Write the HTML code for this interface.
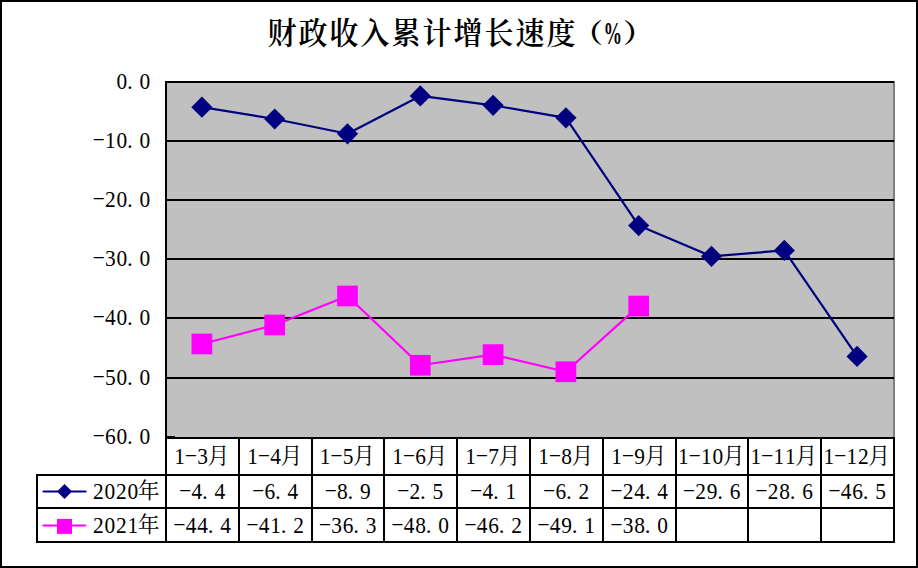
<!DOCTYPE html>
<html lang="zh-CN"><head><meta charset="utf-8"><title>财政收入累计增长速度</title>
<style>
html,body{margin:0;padding:0;background:#fff;}
body{width:918px;height:568px;overflow:hidden;}
svg{display:block;}
</style></head>
<body>
<svg width="918" height="568" viewBox="0 0 918 568">
<rect x="1" y="1" width="916" height="566" fill="#fff" stroke="#000" stroke-width="2"/>
<rect x="166" y="82" width="728" height="356" fill="#c0c0c0" stroke="#808080" stroke-width="2"/>
<line x1="166" y1="82" x2="894" y2="82" stroke="#000" stroke-width="2"/>
<line x1="166" y1="141" x2="894" y2="141" stroke="#000" stroke-width="2"/>
<line x1="166" y1="200" x2="894" y2="200" stroke="#000" stroke-width="2"/>
<line x1="166" y1="259" x2="894" y2="259" stroke="#000" stroke-width="2"/>
<line x1="166" y1="318" x2="894" y2="318" stroke="#000" stroke-width="2"/>
<line x1="166" y1="378" x2="894" y2="378" stroke="#000" stroke-width="2"/>
<line x1="166" y1="437" x2="175" y2="437" stroke="#000" stroke-width="2"/>
<line x1="166" y1="81" x2="166" y2="543" stroke="#000" stroke-width="2"/>
<line x1="165" y1="438" x2="895" y2="438" stroke="#000" stroke-width="2"/>
<text transform="translate(116.40,89.00) scale(0.93,1.04)" font-family="'Liberation Serif', 'Noto Serif CJK SC', serif" font-size="23" fill="#000">0</text>
<text transform="translate(126.90,89.00) scale(1.0,1.04)" font-family="'Liberation Serif', 'Noto Serif CJK SC', serif" font-size="23" fill="#000">.</text>
<text transform="translate(139.40,89.00) scale(0.93,1.04)" font-family="'Liberation Serif', 'Noto Serif CJK SC', serif" font-size="23" fill="#000">0</text>
<text transform="translate(92.17,142.97) scale(1.68,0.64)" font-family="'Liberation Serif', 'Noto Serif CJK SC', serif" font-size="23" fill="#000">-</text>
<text transform="translate(104.90,148.00) scale(0.93,1.04)" font-family="'Liberation Serif', 'Noto Serif CJK SC', serif" font-size="23" fill="#000">1</text>
<text transform="translate(116.40,148.00) scale(0.93,1.04)" font-family="'Liberation Serif', 'Noto Serif CJK SC', serif" font-size="23" fill="#000">0</text>
<text transform="translate(126.90,148.00) scale(1.0,1.04)" font-family="'Liberation Serif', 'Noto Serif CJK SC', serif" font-size="23" fill="#000">.</text>
<text transform="translate(139.40,148.00) scale(0.93,1.04)" font-family="'Liberation Serif', 'Noto Serif CJK SC', serif" font-size="23" fill="#000">0</text>
<text transform="translate(92.17,201.97) scale(1.68,0.64)" font-family="'Liberation Serif', 'Noto Serif CJK SC', serif" font-size="23" fill="#000">-</text>
<text transform="translate(104.90,207.00) scale(0.93,1.04)" font-family="'Liberation Serif', 'Noto Serif CJK SC', serif" font-size="23" fill="#000">2</text>
<text transform="translate(116.40,207.00) scale(0.93,1.04)" font-family="'Liberation Serif', 'Noto Serif CJK SC', serif" font-size="23" fill="#000">0</text>
<text transform="translate(126.90,207.00) scale(1.0,1.04)" font-family="'Liberation Serif', 'Noto Serif CJK SC', serif" font-size="23" fill="#000">.</text>
<text transform="translate(139.40,207.00) scale(0.93,1.04)" font-family="'Liberation Serif', 'Noto Serif CJK SC', serif" font-size="23" fill="#000">0</text>
<text transform="translate(92.17,260.97) scale(1.68,0.64)" font-family="'Liberation Serif', 'Noto Serif CJK SC', serif" font-size="23" fill="#000">-</text>
<text transform="translate(104.90,266.00) scale(0.93,1.04)" font-family="'Liberation Serif', 'Noto Serif CJK SC', serif" font-size="23" fill="#000">3</text>
<text transform="translate(116.40,266.00) scale(0.93,1.04)" font-family="'Liberation Serif', 'Noto Serif CJK SC', serif" font-size="23" fill="#000">0</text>
<text transform="translate(126.90,266.00) scale(1.0,1.04)" font-family="'Liberation Serif', 'Noto Serif CJK SC', serif" font-size="23" fill="#000">.</text>
<text transform="translate(139.40,266.00) scale(0.93,1.04)" font-family="'Liberation Serif', 'Noto Serif CJK SC', serif" font-size="23" fill="#000">0</text>
<text transform="translate(92.17,319.97) scale(1.68,0.64)" font-family="'Liberation Serif', 'Noto Serif CJK SC', serif" font-size="23" fill="#000">-</text>
<text transform="translate(104.90,325.00) scale(0.93,1.04)" font-family="'Liberation Serif', 'Noto Serif CJK SC', serif" font-size="23" fill="#000">4</text>
<text transform="translate(116.40,325.00) scale(0.93,1.04)" font-family="'Liberation Serif', 'Noto Serif CJK SC', serif" font-size="23" fill="#000">0</text>
<text transform="translate(126.90,325.00) scale(1.0,1.04)" font-family="'Liberation Serif', 'Noto Serif CJK SC', serif" font-size="23" fill="#000">.</text>
<text transform="translate(139.40,325.00) scale(0.93,1.04)" font-family="'Liberation Serif', 'Noto Serif CJK SC', serif" font-size="23" fill="#000">0</text>
<text transform="translate(92.17,379.97) scale(1.68,0.64)" font-family="'Liberation Serif', 'Noto Serif CJK SC', serif" font-size="23" fill="#000">-</text>
<text transform="translate(104.90,385.00) scale(0.93,1.04)" font-family="'Liberation Serif', 'Noto Serif CJK SC', serif" font-size="23" fill="#000">5</text>
<text transform="translate(116.40,385.00) scale(0.93,1.04)" font-family="'Liberation Serif', 'Noto Serif CJK SC', serif" font-size="23" fill="#000">0</text>
<text transform="translate(126.90,385.00) scale(1.0,1.04)" font-family="'Liberation Serif', 'Noto Serif CJK SC', serif" font-size="23" fill="#000">.</text>
<text transform="translate(139.40,385.00) scale(0.93,1.04)" font-family="'Liberation Serif', 'Noto Serif CJK SC', serif" font-size="23" fill="#000">0</text>
<text transform="translate(92.17,438.97) scale(1.68,0.64)" font-family="'Liberation Serif', 'Noto Serif CJK SC', serif" font-size="23" fill="#000">-</text>
<text transform="translate(104.90,444.00) scale(0.93,1.04)" font-family="'Liberation Serif', 'Noto Serif CJK SC', serif" font-size="23" fill="#000">6</text>
<text transform="translate(116.40,444.00) scale(0.93,1.04)" font-family="'Liberation Serif', 'Noto Serif CJK SC', serif" font-size="23" fill="#000">0</text>
<text transform="translate(126.90,444.00) scale(1.0,1.04)" font-family="'Liberation Serif', 'Noto Serif CJK SC', serif" font-size="23" fill="#000">.</text>
<text transform="translate(139.40,444.00) scale(0.93,1.04)" font-family="'Liberation Serif', 'Noto Serif CJK SC', serif" font-size="23" fill="#000">0</text>
<line x1="36" y1="475" x2="895" y2="475" stroke="#000" stroke-width="2"/>
<line x1="36" y1="508" x2="895" y2="508" stroke="#000" stroke-width="2"/>
<line x1="36" y1="542" x2="895" y2="542" stroke="#000" stroke-width="2"/>
<line x1="37" y1="474" x2="37" y2="543" stroke="#000" stroke-width="2"/>
<line x1="239" y1="437" x2="239" y2="543" stroke="#000" stroke-width="2"/>
<line x1="312" y1="437" x2="312" y2="543" stroke="#000" stroke-width="2"/>
<line x1="384" y1="437" x2="384" y2="543" stroke="#000" stroke-width="2"/>
<line x1="457" y1="437" x2="457" y2="543" stroke="#000" stroke-width="2"/>
<line x1="530" y1="437" x2="530" y2="543" stroke="#000" stroke-width="2"/>
<line x1="603" y1="437" x2="603" y2="543" stroke="#000" stroke-width="2"/>
<line x1="676" y1="437" x2="676" y2="543" stroke="#000" stroke-width="2"/>
<line x1="748" y1="437" x2="748" y2="543" stroke="#000" stroke-width="2"/>
<line x1="821" y1="437" x2="821" y2="543" stroke="#000" stroke-width="2"/>
<line x1="894" y1="437" x2="894" y2="543" stroke="#000" stroke-width="2"/>
<text transform="translate(174.15,464.00) scale(0.93,1.04)" font-family="'Liberation Serif', 'Noto Serif CJK SC', serif" font-size="23" fill="#000">1</text>
<text transform="translate(184.42,458.97) scale(1.68,0.64)" font-family="'Liberation Serif', 'Noto Serif CJK SC', serif" font-size="23" fill="#000">-</text>
<text transform="translate(197.15,464.00) scale(0.93,1.04)" font-family="'Liberation Serif', 'Noto Serif CJK SC', serif" font-size="23" fill="#000">3</text>
<text x="207.55" y="463.00" font-family="'Liberation Serif', 'Noto Serif CJK SC', serif" font-size="21.85" fill="#000">月</text>
<text transform="translate(178.67,493.97) scale(1.68,0.64)" font-family="'Liberation Serif', 'Noto Serif CJK SC', serif" font-size="23" fill="#000">-</text>
<text transform="translate(191.40,499.00) scale(0.93,1.04)" font-family="'Liberation Serif', 'Noto Serif CJK SC', serif" font-size="23" fill="#000">4</text>
<text transform="translate(201.90,499.00) scale(1.0,1.04)" font-family="'Liberation Serif', 'Noto Serif CJK SC', serif" font-size="23" fill="#000">.</text>
<text transform="translate(214.40,499.00) scale(0.93,1.04)" font-family="'Liberation Serif', 'Noto Serif CJK SC', serif" font-size="23" fill="#000">4</text>
<text transform="translate(172.92,527.97) scale(1.68,0.64)" font-family="'Liberation Serif', 'Noto Serif CJK SC', serif" font-size="23" fill="#000">-</text>
<text transform="translate(185.65,533.00) scale(0.93,1.04)" font-family="'Liberation Serif', 'Noto Serif CJK SC', serif" font-size="23" fill="#000">4</text>
<text transform="translate(197.15,533.00) scale(0.93,1.04)" font-family="'Liberation Serif', 'Noto Serif CJK SC', serif" font-size="23" fill="#000">4</text>
<text transform="translate(207.65,533.00) scale(1.0,1.04)" font-family="'Liberation Serif', 'Noto Serif CJK SC', serif" font-size="23" fill="#000">.</text>
<text transform="translate(220.15,533.00) scale(0.93,1.04)" font-family="'Liberation Serif', 'Noto Serif CJK SC', serif" font-size="23" fill="#000">4</text>
<text transform="translate(247.15,464.00) scale(0.93,1.04)" font-family="'Liberation Serif', 'Noto Serif CJK SC', serif" font-size="23" fill="#000">1</text>
<text transform="translate(257.42,458.97) scale(1.68,0.64)" font-family="'Liberation Serif', 'Noto Serif CJK SC', serif" font-size="23" fill="#000">-</text>
<text transform="translate(270.15,464.00) scale(0.93,1.04)" font-family="'Liberation Serif', 'Noto Serif CJK SC', serif" font-size="23" fill="#000">4</text>
<text x="280.55" y="463.00" font-family="'Liberation Serif', 'Noto Serif CJK SC', serif" font-size="21.85" fill="#000">月</text>
<text transform="translate(251.67,493.97) scale(1.68,0.64)" font-family="'Liberation Serif', 'Noto Serif CJK SC', serif" font-size="23" fill="#000">-</text>
<text transform="translate(264.40,499.00) scale(0.93,1.04)" font-family="'Liberation Serif', 'Noto Serif CJK SC', serif" font-size="23" fill="#000">6</text>
<text transform="translate(274.90,499.00) scale(1.0,1.04)" font-family="'Liberation Serif', 'Noto Serif CJK SC', serif" font-size="23" fill="#000">.</text>
<text transform="translate(287.40,499.00) scale(0.93,1.04)" font-family="'Liberation Serif', 'Noto Serif CJK SC', serif" font-size="23" fill="#000">4</text>
<text transform="translate(245.92,527.97) scale(1.68,0.64)" font-family="'Liberation Serif', 'Noto Serif CJK SC', serif" font-size="23" fill="#000">-</text>
<text transform="translate(258.65,533.00) scale(0.93,1.04)" font-family="'Liberation Serif', 'Noto Serif CJK SC', serif" font-size="23" fill="#000">4</text>
<text transform="translate(270.15,533.00) scale(0.93,1.04)" font-family="'Liberation Serif', 'Noto Serif CJK SC', serif" font-size="23" fill="#000">1</text>
<text transform="translate(280.65,533.00) scale(1.0,1.04)" font-family="'Liberation Serif', 'Noto Serif CJK SC', serif" font-size="23" fill="#000">.</text>
<text transform="translate(293.15,533.00) scale(0.93,1.04)" font-family="'Liberation Serif', 'Noto Serif CJK SC', serif" font-size="23" fill="#000">2</text>
<text transform="translate(319.65,464.00) scale(0.93,1.04)" font-family="'Liberation Serif', 'Noto Serif CJK SC', serif" font-size="23" fill="#000">1</text>
<text transform="translate(329.92,458.97) scale(1.68,0.64)" font-family="'Liberation Serif', 'Noto Serif CJK SC', serif" font-size="23" fill="#000">-</text>
<text transform="translate(342.65,464.00) scale(0.93,1.04)" font-family="'Liberation Serif', 'Noto Serif CJK SC', serif" font-size="23" fill="#000">5</text>
<text x="353.05" y="463.00" font-family="'Liberation Serif', 'Noto Serif CJK SC', serif" font-size="21.85" fill="#000">月</text>
<text transform="translate(324.17,493.97) scale(1.68,0.64)" font-family="'Liberation Serif', 'Noto Serif CJK SC', serif" font-size="23" fill="#000">-</text>
<text transform="translate(336.90,499.00) scale(0.93,1.04)" font-family="'Liberation Serif', 'Noto Serif CJK SC', serif" font-size="23" fill="#000">8</text>
<text transform="translate(347.40,499.00) scale(1.0,1.04)" font-family="'Liberation Serif', 'Noto Serif CJK SC', serif" font-size="23" fill="#000">.</text>
<text transform="translate(359.90,499.00) scale(0.93,1.04)" font-family="'Liberation Serif', 'Noto Serif CJK SC', serif" font-size="23" fill="#000">9</text>
<text transform="translate(318.42,527.97) scale(1.68,0.64)" font-family="'Liberation Serif', 'Noto Serif CJK SC', serif" font-size="23" fill="#000">-</text>
<text transform="translate(331.15,533.00) scale(0.93,1.04)" font-family="'Liberation Serif', 'Noto Serif CJK SC', serif" font-size="23" fill="#000">3</text>
<text transform="translate(342.65,533.00) scale(0.93,1.04)" font-family="'Liberation Serif', 'Noto Serif CJK SC', serif" font-size="23" fill="#000">6</text>
<text transform="translate(353.15,533.00) scale(1.0,1.04)" font-family="'Liberation Serif', 'Noto Serif CJK SC', serif" font-size="23" fill="#000">.</text>
<text transform="translate(365.65,533.00) scale(0.93,1.04)" font-family="'Liberation Serif', 'Noto Serif CJK SC', serif" font-size="23" fill="#000">3</text>
<text transform="translate(392.15,464.00) scale(0.93,1.04)" font-family="'Liberation Serif', 'Noto Serif CJK SC', serif" font-size="23" fill="#000">1</text>
<text transform="translate(402.42,458.97) scale(1.68,0.64)" font-family="'Liberation Serif', 'Noto Serif CJK SC', serif" font-size="23" fill="#000">-</text>
<text transform="translate(415.15,464.00) scale(0.93,1.04)" font-family="'Liberation Serif', 'Noto Serif CJK SC', serif" font-size="23" fill="#000">6</text>
<text x="425.55" y="463.00" font-family="'Liberation Serif', 'Noto Serif CJK SC', serif" font-size="21.85" fill="#000">月</text>
<text transform="translate(396.67,493.97) scale(1.68,0.64)" font-family="'Liberation Serif', 'Noto Serif CJK SC', serif" font-size="23" fill="#000">-</text>
<text transform="translate(409.40,499.00) scale(0.93,1.04)" font-family="'Liberation Serif', 'Noto Serif CJK SC', serif" font-size="23" fill="#000">2</text>
<text transform="translate(419.90,499.00) scale(1.0,1.04)" font-family="'Liberation Serif', 'Noto Serif CJK SC', serif" font-size="23" fill="#000">.</text>
<text transform="translate(432.40,499.00) scale(0.93,1.04)" font-family="'Liberation Serif', 'Noto Serif CJK SC', serif" font-size="23" fill="#000">5</text>
<text transform="translate(390.92,527.97) scale(1.68,0.64)" font-family="'Liberation Serif', 'Noto Serif CJK SC', serif" font-size="23" fill="#000">-</text>
<text transform="translate(403.65,533.00) scale(0.93,1.04)" font-family="'Liberation Serif', 'Noto Serif CJK SC', serif" font-size="23" fill="#000">4</text>
<text transform="translate(415.15,533.00) scale(0.93,1.04)" font-family="'Liberation Serif', 'Noto Serif CJK SC', serif" font-size="23" fill="#000">8</text>
<text transform="translate(425.65,533.00) scale(1.0,1.04)" font-family="'Liberation Serif', 'Noto Serif CJK SC', serif" font-size="23" fill="#000">.</text>
<text transform="translate(438.15,533.00) scale(0.93,1.04)" font-family="'Liberation Serif', 'Noto Serif CJK SC', serif" font-size="23" fill="#000">0</text>
<text transform="translate(465.15,464.00) scale(0.93,1.04)" font-family="'Liberation Serif', 'Noto Serif CJK SC', serif" font-size="23" fill="#000">1</text>
<text transform="translate(475.42,458.97) scale(1.68,0.64)" font-family="'Liberation Serif', 'Noto Serif CJK SC', serif" font-size="23" fill="#000">-</text>
<text transform="translate(488.15,464.00) scale(0.93,1.04)" font-family="'Liberation Serif', 'Noto Serif CJK SC', serif" font-size="23" fill="#000">7</text>
<text x="498.55" y="463.00" font-family="'Liberation Serif', 'Noto Serif CJK SC', serif" font-size="21.85" fill="#000">月</text>
<text transform="translate(469.67,493.97) scale(1.68,0.64)" font-family="'Liberation Serif', 'Noto Serif CJK SC', serif" font-size="23" fill="#000">-</text>
<text transform="translate(482.40,499.00) scale(0.93,1.04)" font-family="'Liberation Serif', 'Noto Serif CJK SC', serif" font-size="23" fill="#000">4</text>
<text transform="translate(492.90,499.00) scale(1.0,1.04)" font-family="'Liberation Serif', 'Noto Serif CJK SC', serif" font-size="23" fill="#000">.</text>
<text transform="translate(505.40,499.00) scale(0.93,1.04)" font-family="'Liberation Serif', 'Noto Serif CJK SC', serif" font-size="23" fill="#000">1</text>
<text transform="translate(463.92,527.97) scale(1.68,0.64)" font-family="'Liberation Serif', 'Noto Serif CJK SC', serif" font-size="23" fill="#000">-</text>
<text transform="translate(476.65,533.00) scale(0.93,1.04)" font-family="'Liberation Serif', 'Noto Serif CJK SC', serif" font-size="23" fill="#000">4</text>
<text transform="translate(488.15,533.00) scale(0.93,1.04)" font-family="'Liberation Serif', 'Noto Serif CJK SC', serif" font-size="23" fill="#000">6</text>
<text transform="translate(498.65,533.00) scale(1.0,1.04)" font-family="'Liberation Serif', 'Noto Serif CJK SC', serif" font-size="23" fill="#000">.</text>
<text transform="translate(511.15,533.00) scale(0.93,1.04)" font-family="'Liberation Serif', 'Noto Serif CJK SC', serif" font-size="23" fill="#000">2</text>
<text transform="translate(538.15,464.00) scale(0.93,1.04)" font-family="'Liberation Serif', 'Noto Serif CJK SC', serif" font-size="23" fill="#000">1</text>
<text transform="translate(548.42,458.97) scale(1.68,0.64)" font-family="'Liberation Serif', 'Noto Serif CJK SC', serif" font-size="23" fill="#000">-</text>
<text transform="translate(561.15,464.00) scale(0.93,1.04)" font-family="'Liberation Serif', 'Noto Serif CJK SC', serif" font-size="23" fill="#000">8</text>
<text x="571.55" y="463.00" font-family="'Liberation Serif', 'Noto Serif CJK SC', serif" font-size="21.85" fill="#000">月</text>
<text transform="translate(542.67,493.97) scale(1.68,0.64)" font-family="'Liberation Serif', 'Noto Serif CJK SC', serif" font-size="23" fill="#000">-</text>
<text transform="translate(555.40,499.00) scale(0.93,1.04)" font-family="'Liberation Serif', 'Noto Serif CJK SC', serif" font-size="23" fill="#000">6</text>
<text transform="translate(565.90,499.00) scale(1.0,1.04)" font-family="'Liberation Serif', 'Noto Serif CJK SC', serif" font-size="23" fill="#000">.</text>
<text transform="translate(578.40,499.00) scale(0.93,1.04)" font-family="'Liberation Serif', 'Noto Serif CJK SC', serif" font-size="23" fill="#000">2</text>
<text transform="translate(536.92,527.97) scale(1.68,0.64)" font-family="'Liberation Serif', 'Noto Serif CJK SC', serif" font-size="23" fill="#000">-</text>
<text transform="translate(549.65,533.00) scale(0.93,1.04)" font-family="'Liberation Serif', 'Noto Serif CJK SC', serif" font-size="23" fill="#000">4</text>
<text transform="translate(561.15,533.00) scale(0.93,1.04)" font-family="'Liberation Serif', 'Noto Serif CJK SC', serif" font-size="23" fill="#000">9</text>
<text transform="translate(571.65,533.00) scale(1.0,1.04)" font-family="'Liberation Serif', 'Noto Serif CJK SC', serif" font-size="23" fill="#000">.</text>
<text transform="translate(584.15,533.00) scale(0.93,1.04)" font-family="'Liberation Serif', 'Noto Serif CJK SC', serif" font-size="23" fill="#000">1</text>
<text transform="translate(611.15,464.00) scale(0.93,1.04)" font-family="'Liberation Serif', 'Noto Serif CJK SC', serif" font-size="23" fill="#000">1</text>
<text transform="translate(621.42,458.97) scale(1.68,0.64)" font-family="'Liberation Serif', 'Noto Serif CJK SC', serif" font-size="23" fill="#000">-</text>
<text transform="translate(634.15,464.00) scale(0.93,1.04)" font-family="'Liberation Serif', 'Noto Serif CJK SC', serif" font-size="23" fill="#000">9</text>
<text x="644.55" y="463.00" font-family="'Liberation Serif', 'Noto Serif CJK SC', serif" font-size="21.85" fill="#000">月</text>
<text transform="translate(609.92,493.97) scale(1.68,0.64)" font-family="'Liberation Serif', 'Noto Serif CJK SC', serif" font-size="23" fill="#000">-</text>
<text transform="translate(622.65,499.00) scale(0.93,1.04)" font-family="'Liberation Serif', 'Noto Serif CJK SC', serif" font-size="23" fill="#000">2</text>
<text transform="translate(634.15,499.00) scale(0.93,1.04)" font-family="'Liberation Serif', 'Noto Serif CJK SC', serif" font-size="23" fill="#000">4</text>
<text transform="translate(644.65,499.00) scale(1.0,1.04)" font-family="'Liberation Serif', 'Noto Serif CJK SC', serif" font-size="23" fill="#000">.</text>
<text transform="translate(657.15,499.00) scale(0.93,1.04)" font-family="'Liberation Serif', 'Noto Serif CJK SC', serif" font-size="23" fill="#000">4</text>
<text transform="translate(609.92,527.97) scale(1.68,0.64)" font-family="'Liberation Serif', 'Noto Serif CJK SC', serif" font-size="23" fill="#000">-</text>
<text transform="translate(622.65,533.00) scale(0.93,1.04)" font-family="'Liberation Serif', 'Noto Serif CJK SC', serif" font-size="23" fill="#000">3</text>
<text transform="translate(634.15,533.00) scale(0.93,1.04)" font-family="'Liberation Serif', 'Noto Serif CJK SC', serif" font-size="23" fill="#000">8</text>
<text transform="translate(644.65,533.00) scale(1.0,1.04)" font-family="'Liberation Serif', 'Noto Serif CJK SC', serif" font-size="23" fill="#000">.</text>
<text transform="translate(657.15,533.00) scale(0.93,1.04)" font-family="'Liberation Serif', 'Noto Serif CJK SC', serif" font-size="23" fill="#000">0</text>
<text transform="translate(677.90,464.00) scale(0.93,1.04)" font-family="'Liberation Serif', 'Noto Serif CJK SC', serif" font-size="23" fill="#000">1</text>
<text transform="translate(688.17,458.97) scale(1.68,0.64)" font-family="'Liberation Serif', 'Noto Serif CJK SC', serif" font-size="23" fill="#000">-</text>
<text transform="translate(700.90,464.00) scale(0.93,1.04)" font-family="'Liberation Serif', 'Noto Serif CJK SC', serif" font-size="23" fill="#000">1</text>
<text transform="translate(712.40,464.00) scale(0.93,1.04)" font-family="'Liberation Serif', 'Noto Serif CJK SC', serif" font-size="23" fill="#000">0</text>
<text x="722.80" y="463.00" font-family="'Liberation Serif', 'Noto Serif CJK SC', serif" font-size="21.85" fill="#000">月</text>
<text transform="translate(682.42,493.97) scale(1.68,0.64)" font-family="'Liberation Serif', 'Noto Serif CJK SC', serif" font-size="23" fill="#000">-</text>
<text transform="translate(695.15,499.00) scale(0.93,1.04)" font-family="'Liberation Serif', 'Noto Serif CJK SC', serif" font-size="23" fill="#000">2</text>
<text transform="translate(706.65,499.00) scale(0.93,1.04)" font-family="'Liberation Serif', 'Noto Serif CJK SC', serif" font-size="23" fill="#000">9</text>
<text transform="translate(717.15,499.00) scale(1.0,1.04)" font-family="'Liberation Serif', 'Noto Serif CJK SC', serif" font-size="23" fill="#000">.</text>
<text transform="translate(729.65,499.00) scale(0.93,1.04)" font-family="'Liberation Serif', 'Noto Serif CJK SC', serif" font-size="23" fill="#000">6</text>
<text transform="translate(750.40,464.00) scale(0.93,1.04)" font-family="'Liberation Serif', 'Noto Serif CJK SC', serif" font-size="23" fill="#000">1</text>
<text transform="translate(760.67,458.97) scale(1.68,0.64)" font-family="'Liberation Serif', 'Noto Serif CJK SC', serif" font-size="23" fill="#000">-</text>
<text transform="translate(773.40,464.00) scale(0.93,1.04)" font-family="'Liberation Serif', 'Noto Serif CJK SC', serif" font-size="23" fill="#000">1</text>
<text transform="translate(784.90,464.00) scale(0.93,1.04)" font-family="'Liberation Serif', 'Noto Serif CJK SC', serif" font-size="23" fill="#000">1</text>
<text x="795.30" y="463.00" font-family="'Liberation Serif', 'Noto Serif CJK SC', serif" font-size="21.85" fill="#000">月</text>
<text transform="translate(754.92,493.97) scale(1.68,0.64)" font-family="'Liberation Serif', 'Noto Serif CJK SC', serif" font-size="23" fill="#000">-</text>
<text transform="translate(767.65,499.00) scale(0.93,1.04)" font-family="'Liberation Serif', 'Noto Serif CJK SC', serif" font-size="23" fill="#000">2</text>
<text transform="translate(779.15,499.00) scale(0.93,1.04)" font-family="'Liberation Serif', 'Noto Serif CJK SC', serif" font-size="23" fill="#000">8</text>
<text transform="translate(789.65,499.00) scale(1.0,1.04)" font-family="'Liberation Serif', 'Noto Serif CJK SC', serif" font-size="23" fill="#000">.</text>
<text transform="translate(802.15,499.00) scale(0.93,1.04)" font-family="'Liberation Serif', 'Noto Serif CJK SC', serif" font-size="23" fill="#000">6</text>
<text transform="translate(823.40,464.00) scale(0.93,1.04)" font-family="'Liberation Serif', 'Noto Serif CJK SC', serif" font-size="23" fill="#000">1</text>
<text transform="translate(833.67,458.97) scale(1.68,0.64)" font-family="'Liberation Serif', 'Noto Serif CJK SC', serif" font-size="23" fill="#000">-</text>
<text transform="translate(846.40,464.00) scale(0.93,1.04)" font-family="'Liberation Serif', 'Noto Serif CJK SC', serif" font-size="23" fill="#000">1</text>
<text transform="translate(857.90,464.00) scale(0.93,1.04)" font-family="'Liberation Serif', 'Noto Serif CJK SC', serif" font-size="23" fill="#000">2</text>
<text x="868.30" y="463.00" font-family="'Liberation Serif', 'Noto Serif CJK SC', serif" font-size="21.85" fill="#000">月</text>
<text transform="translate(827.92,493.97) scale(1.68,0.64)" font-family="'Liberation Serif', 'Noto Serif CJK SC', serif" font-size="23" fill="#000">-</text>
<text transform="translate(840.65,499.00) scale(0.93,1.04)" font-family="'Liberation Serif', 'Noto Serif CJK SC', serif" font-size="23" fill="#000">4</text>
<text transform="translate(852.15,499.00) scale(0.93,1.04)" font-family="'Liberation Serif', 'Noto Serif CJK SC', serif" font-size="23" fill="#000">6</text>
<text transform="translate(862.65,499.00) scale(1.0,1.04)" font-family="'Liberation Serif', 'Noto Serif CJK SC', serif" font-size="23" fill="#000">.</text>
<text transform="translate(875.15,499.00) scale(0.93,1.04)" font-family="'Liberation Serif', 'Noto Serif CJK SC', serif" font-size="23" fill="#000">5</text>
<line x1="43.6" y1="491.5" x2="85.6" y2="491.5" stroke="#000080" stroke-width="2.2" stroke-linecap="round"/>
<polygon points="64.5,484 72,491.5 64.5,499 57,491.5" fill="#000080"/>
<text transform="translate(92.90,498.50) scale(0.93,1.04)" font-family="'Liberation Serif', 'Noto Serif CJK SC', serif" font-size="23" fill="#000">2</text>
<text transform="translate(104.40,498.50) scale(0.93,1.04)" font-family="'Liberation Serif', 'Noto Serif CJK SC', serif" font-size="23" fill="#000">0</text>
<text transform="translate(115.90,498.50) scale(0.93,1.04)" font-family="'Liberation Serif', 'Noto Serif CJK SC', serif" font-size="23" fill="#000">2</text>
<text transform="translate(127.40,498.50) scale(0.93,1.04)" font-family="'Liberation Serif', 'Noto Serif CJK SC', serif" font-size="23" fill="#000">0</text>
<text x="137.80" y="497.50" font-family="'Liberation Serif', 'Noto Serif CJK SC', serif" font-size="21.85" fill="#000">年</text>
<line x1="43.4" y1="525.5" x2="85.2" y2="525.5" stroke="#ff00ff" stroke-width="2.2" stroke-linecap="round"/>
<rect x="57" y="518.9" width="15" height="15" fill="#ff00ff"/>
<text transform="translate(92.90,532.50) scale(0.93,1.04)" font-family="'Liberation Serif', 'Noto Serif CJK SC', serif" font-size="23" fill="#000">2</text>
<text transform="translate(104.40,532.50) scale(0.93,1.04)" font-family="'Liberation Serif', 'Noto Serif CJK SC', serif" font-size="23" fill="#000">0</text>
<text transform="translate(115.90,532.50) scale(0.93,1.04)" font-family="'Liberation Serif', 'Noto Serif CJK SC', serif" font-size="23" fill="#000">2</text>
<text transform="translate(127.40,532.50) scale(0.93,1.04)" font-family="'Liberation Serif', 'Noto Serif CJK SC', serif" font-size="23" fill="#000">1</text>
<text x="137.80" y="531.50" font-family="'Liberation Serif', 'Noto Serif CJK SC', serif" font-size="21.85" fill="#000">年</text>
<polyline points="201.90,107.15 274.70,118.99 347.50,133.79 420.30,95.90 493.10,105.37 565.90,117.80 638.70,225.55 711.50,256.33 784.30,250.41 857.10,356.38" fill="none" stroke="#000080" stroke-width="2.2" stroke-linejoin="round"/>
<polyline points="201.90,343.95 274.70,325.00 347.50,296.00 420.30,365.26 493.10,354.60 565.90,371.77 638.70,306.06" fill="none" stroke="#ff00ff" stroke-width="2.2" stroke-linejoin="round"/>
<polygon points="201.90,96.55 212.50,107.15 201.90,117.75 191.30,107.15" fill="#000080"/>
<polygon points="274.70,108.39 285.30,118.99 274.70,129.59 264.10,118.99" fill="#000080"/>
<polygon points="347.50,123.19 358.10,133.79 347.50,144.39 336.90,133.79" fill="#000080"/>
<polygon points="420.30,85.30 430.90,95.90 420.30,106.50 409.70,95.90" fill="#000080"/>
<polygon points="493.10,94.77 503.70,105.37 493.10,115.97 482.50,105.37" fill="#000080"/>
<polygon points="565.90,107.20 576.50,117.80 565.90,128.40 555.30,117.80" fill="#000080"/>
<polygon points="638.70,214.95 649.30,225.55 638.70,236.15 628.10,225.55" fill="#000080"/>
<polygon points="711.50,245.73 722.10,256.33 711.50,266.93 700.90,256.33" fill="#000080"/>
<polygon points="784.30,239.81 794.90,250.41 784.30,261.01 773.70,250.41" fill="#000080"/>
<polygon points="857.10,345.78 867.70,356.38 857.10,366.98 846.50,356.38" fill="#000080"/>
<rect x="191.55" y="333.60" width="20.70" height="20.70" fill="#ff00ff"/>
<rect x="264.35" y="314.65" width="20.70" height="20.70" fill="#ff00ff"/>
<rect x="337.15" y="285.65" width="20.70" height="20.70" fill="#ff00ff"/>
<rect x="409.95" y="354.91" width="20.70" height="20.70" fill="#ff00ff"/>
<rect x="482.75" y="344.25" width="20.70" height="20.70" fill="#ff00ff"/>
<rect x="555.55" y="361.42" width="20.70" height="20.70" fill="#ff00ff"/>
<rect x="628.35" y="295.71" width="20.70" height="20.70" fill="#ff00ff"/>
<text transform="translate(267.51,43.50) scale(0.935,1)" font-family="'Liberation Serif', 'Noto Serif CJK SC', serif" font-size="31" font-weight="600">财</text>
<text transform="translate(298.51,43.50) scale(0.935,1)" font-family="'Liberation Serif', 'Noto Serif CJK SC', serif" font-size="31" font-weight="600">政</text>
<text transform="translate(329.51,43.50) scale(0.935,1)" font-family="'Liberation Serif', 'Noto Serif CJK SC', serif" font-size="31" font-weight="600">收</text>
<text transform="translate(360.51,43.50) scale(0.935,1)" font-family="'Liberation Serif', 'Noto Serif CJK SC', serif" font-size="31" font-weight="600">入</text>
<text transform="translate(391.51,43.50) scale(0.935,1)" font-family="'Liberation Serif', 'Noto Serif CJK SC', serif" font-size="31" font-weight="600">累</text>
<text transform="translate(422.51,43.50) scale(0.935,1)" font-family="'Liberation Serif', 'Noto Serif CJK SC', serif" font-size="31" font-weight="600">计</text>
<text transform="translate(453.51,43.50) scale(0.935,1)" font-family="'Liberation Serif', 'Noto Serif CJK SC', serif" font-size="31" font-weight="600">增</text>
<text transform="translate(484.51,43.50) scale(0.935,1)" font-family="'Liberation Serif', 'Noto Serif CJK SC', serif" font-size="31" font-weight="600">长</text>
<text transform="translate(515.51,43.50) scale(0.935,1)" font-family="'Liberation Serif', 'Noto Serif CJK SC', serif" font-size="31" font-weight="600">速</text>
<text transform="translate(546.51,43.50) scale(0.935,1)" font-family="'Liberation Serif', 'Noto Serif CJK SC', serif" font-size="31" font-weight="600">度</text>
<text transform="translate(571.90,42.30) scale(1,0.855)" font-family="'Liberation Serif', 'Noto Serif CJK SC', serif" font-size="31" font-weight="700">（</text>
<text x="603.60" y="43.50" font-family="'Liberation Serif', 'Noto Serif CJK SC', serif" font-size="31" font-weight="bold" textLength="18.6" lengthAdjust="spacingAndGlyphs">%</text>
<text transform="translate(623.00,42.30) scale(1,0.855)" font-family="'Liberation Serif', 'Noto Serif CJK SC', serif" font-size="31" font-weight="700">）</text>
</svg>
</body></html>
